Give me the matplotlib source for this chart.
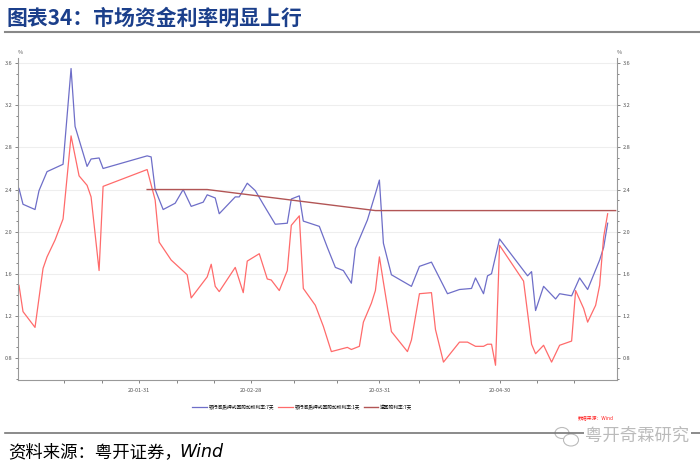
#Recreate: money market rates chart (DR7 / DR1 / reverse repo 7D)

import matplotlib as mpl
mpl.use('Agg')
import matplotlib.pyplot as plt
import matplotlib.dates as mdates
from matplotlib.patches import Ellipse
import pandas as pd

plt.rcParams['font.family'] = ['Noto Sans CJK SC', 'DejaVu Sans']

#Series
dates_7d = ['2020-01-01','2020-01-02','2020-01-05','2020-01-06','2020-01-08','2020-01-12',
            '2020-01-14','2020-01-15','2020-01-18','2020-01-19','2020-01-21','2020-01-22',
            '2020-02-02','2020-02-03','2020-02-04','2020-02-06','2020-02-09','2020-02-11',
            '2020-02-13','2020-02-16','2020-02-17','2020-02-19','2020-02-20','2020-02-24',
            '2020-02-25','2020-02-27','2020-02-29','2020-03-02','2020-03-05','2020-03-08',
            '2020-03-09','2020-03-11','2020-03-12','2020-03-16','2020-03-18','2020-03-20',
            '2020-03-22','2020-03-24','2020-03-25','2020-03-28','2020-03-30','2020-03-31',
            '2020-04-01','2020-04-03','2020-04-08','2020-04-10','2020-04-13','2020-04-17',
            '2020-04-20','2020-04-23','2020-04-24','2020-04-26','2020-04-27','2020-04-28',
            '2020-04-30','2020-05-07','2020-05-08','2020-05-09','2020-05-11','2020-05-14',
            '2020-05-15','2020-05-18','2020-05-20','2020-05-22','2020-05-25','2020-05-26',
            '2020-05-27']
rate_7d = [2.41,2.26,2.21,2.39,2.57,2.64,
           3.55,3.00,2.62,2.69,2.70,2.60,
           2.72,2.71,2.40,2.21,2.27,2.40,
           2.24,2.28,2.35,2.32,2.17,2.33,
           2.33,2.46,2.39,2.26,2.07,2.08,
           2.31,2.34,2.10,2.05,1.85,1.66,
           1.63,1.51,1.84,2.11,2.36,2.49,
           1.89,1.59,1.48,1.67,1.71,1.41,
           1.45,1.46,1.56,1.41,1.58,1.60,
           1.93,1.58,1.62,1.25,1.48,1.36,
           1.41,1.39,1.56,1.45,1.73,1.85,
           2.08]

dates_1d = ['2020-01-01','2020-01-02','2020-01-05','2020-01-07','2020-01-08','2020-01-10',
            '2020-01-12','2020-01-14','2020-01-16','2020-01-18','2020-01-19','2020-01-21',
            '2020-01-22','2020-02-02','2020-02-04','2020-02-05','2020-02-08','2020-02-12',
            '2020-02-13','2020-02-17','2020-02-18','2020-02-19','2020-02-20','2020-02-24',
            '2020-02-26','2020-02-27','2020-03-01','2020-03-03','2020-03-04','2020-03-06',
            '2020-03-08','2020-03-09','2020-03-11','2020-03-12','2020-03-15','2020-03-17',
            '2020-03-19','2020-03-23','2020-03-24','2020-03-26','2020-03-27','2020-03-29',
            '2020-03-30','2020-03-31','2020-04-01','2020-04-03','2020-04-07','2020-04-08',
            '2020-04-10','2020-04-13','2020-04-14','2020-04-16','2020-04-20','2020-04-22',
            '2020-04-24','2020-04-26','2020-04-27','2020-04-28','2020-04-29','2020-04-30',
            '2020-05-06','2020-05-08','2020-05-09','2020-05-11','2020-05-13','2020-05-15',
            '2020-05-18','2020-05-19','2020-05-21','2020-05-22','2020-05-24','2020-05-25',
            '2020-05-26','2020-05-27']
rate_1d = [1.49,1.24,1.09,1.65,1.76,1.92,
           2.12,2.91,2.53,2.44,2.33,1.63,
           2.43,2.59,2.30,1.90,1.73,1.59,
           1.37,1.57,1.69,1.48,1.43,1.66,
           1.42,1.72,1.79,1.55,1.54,1.44,
           1.63,2.06,2.15,1.46,1.30,1.10,
           0.86,0.90,0.88,0.91,1.14,1.32,
           1.44,1.76,1.52,1.05,0.86,0.97,
           1.41,1.42,1.07,0.76,0.95,0.95,
           0.91,0.91,0.93,0.93,0.73,1.87,
           1.53,0.93,0.84,0.92,0.76,0.92,
           0.96,1.44,1.27,1.14,1.30,1.49,
           1.95,2.17]

dates_rr = ['2020-02-02','2020-02-17','2020-03-30','2020-05-29']
rate_rr = [2.40,2.40,2.20,2.20]

labels = ['银行间质押式回购加权利率:7天','银行间质押式回购加权利率:1天','逆回购利率:7天']
tick_dates = ['2020-01-31','2020-02-28','2020-03-31','2020-04-30']

#Figure and axis
fig = plt.figure(figsize=(7,4.7),dpi=100)
ax = fig.add_axes([18/700, 1-380/470, 599/700, 322/470])

ax.plot(pd.to_datetime(dates_7d), rate_7d, color='#6E6EC8', linewidth=0.9, label=labels[0])
ax.plot(pd.to_datetime(dates_1d), rate_1d, color='#FF6B6B', linewidth=0.9, label=labels[1])
ax.plot(pd.to_datetime(dates_rr), rate_rr, color='#B25555', linewidth=1.0, label=labels[2])

#Axis limits
ax.set_xlim(pd.Timestamp('2019-12-31 18:00'), pd.Timestamp('2020-05-29 08:00'))
ax.set_ylim(0.59, 3.65)

#Y ticks both sides
yt = [0.8,1.2,1.6,2.0,2.4,2.8,3.2,3.6]
ax.set_yticks(yt)
ax.set_yticks([v/10 for v in range(6,37)], minor=True)
ax.set_yticklabels(['%.1f' % v for v in yt])
ax.yaxis.grid(True, which='major', color='#EEEEEE', linewidth=0.8)
ax.set_axisbelow(True)
ax.tick_params(axis='y', which='both', left=True, right=True, labelleft=True,
               labelright=True, labelsize=4, colors='#555555', length=2.5, width=0.5, pad=1.5)
ax.tick_params(axis='y', which='minor', length=1.5)

#X ticks at month ends, minor at thirds
xt = pd.to_datetime(tick_dates)
ax.set_xticks(xt)
ax.xaxis.set_major_formatter(mdates.DateFormatter('%y-%m-%d'))
xn = mdates.date2num(xt)
minor = []
for i in range(len(xn)-1):
    step = (xn[i+1]-xn[i])/3
    minor += [xn[i]+step, xn[i]+2*step]
step = (xn[1]-xn[0])/3
minor = [xn[0]-2*step, xn[0]-step] + minor + [xn[-1]+step, xn[-1]+2*step]
ax.set_xticks(minor, minor=True)
ax.tick_params(axis='x', which='both', labelsize=4, colors='#555555', length=2.5, width=0.5, pad=3)

for s in ['left','right','bottom']:
    ax.spines[s].set_color('#999999')
    ax.spines[s].set_linewidth(0.8)
ax.spines['top'].set_visible(False)

#Percent marks
ax.text(0.0, 1.01, '%', transform=ax.transAxes, fontsize=4, color='#555555', ha='left', va='bottom')
ax.text(1.0, 1.01, '%', transform=ax.transAxes, fontsize=4, color='#555555', ha='left', va='bottom')

#Legend
ax.legend(loc='center', bbox_to_anchor=(0.475, -0.085), ncol=3, fontsize=3.4, frameon=False,
          handlelength=3.0, handletextpad=0.4, columnspacing=0.9)

#Small source mark
fig.text(578/700, 1-418/470, '数据来源：Wind', fontsize=3.5, color='#FF2020', ha='left', va='center')

#Title and rules
fig.text(6/700, 1-18/470, '图表34：市场资金利率明显上行', fontsize=15, fontweight='bold',
         color='#1B3F8B', ha='left', va='center')
fig.add_artist(plt.Line2D([5/700, 1], [1-32/470, 1-32/470], color='#888888', linewidth=1.5))
fig.add_artist(plt.Line2D([5/700, 1], [1-433/470, 1-433/470], color='#777777', linewidth=1.2))

#Footer
fig.text(8/700, 1-452/470, '资料来源：粤开证券，', fontsize=12.5, color='black', ha='left', va='center')
fig.text(179/700, 1-452/470, 'Wind', fontsize=12.5, color='black', style='italic', ha='left', va='center',
         family=['DejaVu Sans'])

#Watermark (wechat icon + account name)
fig.add_artist(Ellipse((562/700, 1-433/470), 14/700, 11/470, facecolor='white', edgecolor='#BBBBBB', linewidth=0.8))
fig.add_artist(Ellipse((571/700, 1-440/470), 15/700, 12/470, facecolor='white', edgecolor='#BBBBBB', linewidth=0.8))
fig.text(585/700, 1-436/470, '粤开奇霖研究', fontsize=12.5, color='#BBBBBB', ha='left', va='center',
         bbox=dict(facecolor='white', edgecolor='none', pad=1))

plt.savefig('out.png', dpi=100)
plt.close()
